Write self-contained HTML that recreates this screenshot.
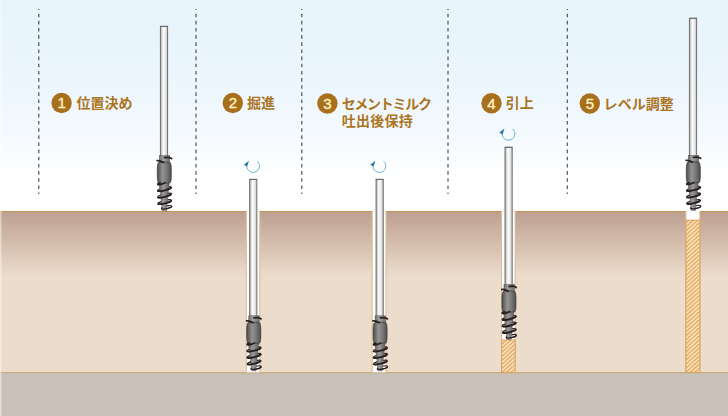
<!DOCTYPE html>
<html lang="ja"><head><meta charset="utf-8"><title>施工手順</title>
<style>
html,body{margin:0;padding:0;background:#fff;}
body{width:728px;height:416px;overflow:hidden;}
svg{display:block;}
.lbl{font-family:"Liberation Sans","Noto Sans CJK JP",sans-serif;font-weight:bold;font-size:14px;fill:#ab741f;}
.kana{letter-spacing:-1.25px;}
.k3{letter-spacing:0.25px;}
.kana2{letter-spacing:0.05px;}
.num{font-family:"Liberation Sans","Noto Sans CJK JP",sans-serif;font-weight:normal;font-size:15px;fill:#fff3c4;stroke:#fff3c4;stroke-width:0.35px;}
</style></head><body>
<svg width="728" height="416" viewBox="0 0 728 416">
<defs>
<linearGradient id="sky" x1="0" y1="0" x2="0" y2="1"><stop offset="0" stop-color="#e8f4fc"/><stop offset="0.33" stop-color="#eaf5fd"/><stop offset="0.6" stop-color="#f3f9fe"/><stop offset="0.84" stop-color="#ffffff"/></linearGradient>
<linearGradient id="soil" x1="0" y1="0" x2="0" y2="1"><stop offset="0" stop-color="#bd9f90"/><stop offset="1" stop-color="#ebdccb"/></linearGradient>
<linearGradient id="pg" x1="0" y1="0" x2="1" y2="0"><stop offset="0" stop-color="#a8a8a8"/><stop offset="0.4" stop-color="#ffffff"/><stop offset="0.75" stop-color="#e6e6e6"/><stop offset="1" stop-color="#b8b8b8"/></linearGradient>
<linearGradient id="ng" x1="0" y1="0" x2="1" y2="0"><stop offset="0" stop-color="#6a6a6a"/><stop offset="0.4" stop-color="#a5a5a5"/><stop offset="1" stop-color="#6a6a6a"/></linearGradient>
<linearGradient id="bg" x1="0" y1="0" x2="1" y2="0"><stop offset="0" stop-color="#4c4a4a"/><stop offset="0.38" stop-color="#939393"/><stop offset="0.6" stop-color="#808080"/><stop offset="1" stop-color="#504e4e"/></linearGradient>
<linearGradient id="tg" x1="0" y1="0" x2="1" y2="0"><stop offset="0" stop-color="#5a5858"/><stop offset="0.45" stop-color="#9a9a9a"/><stop offset="1" stop-color="#5a5858"/></linearGradient>
<pattern id="hatch" width="3" height="3" patternUnits="userSpaceOnUse" patternTransform="rotate(-42)"><rect width="3" height="3" fill="#fbe0bc"/><rect width="3" height="1.15" fill="#dda556"/></pattern>
</defs>
<rect x="0" y="0" width="728" height="212" fill="url(#sky)"/>
<rect x="0" y="211" width="728" height="65" fill="url(#soil)"/>
<rect x="0" y="275.5" width="728" height="97" fill="#ebdccb"/>
<rect x="0" y="372.6" width="728" height="44" fill="#c9c1b7"/>
<rect x="0" y="210.95" width="728" height="1.15" fill="#bf9858"/>
<rect x="0" y="372.2" width="728" height="1.0" fill="#c2a26e"/>
<rect x="0" y="0" width="1" height="416" fill="#fff" opacity="0.45"/><rect x="1" y="0" width="1" height="416" fill="#fff" opacity="0.25"/>
<path d="M38.8 8.9 V194.1" stroke="#4c4c4c" stroke-width="1.15" stroke-dasharray="3.6 3.555" stroke-dashoffset="2.4" fill="none"/>
<path d="M196 8.9 V194.1" stroke="#4c4c4c" stroke-width="1.15" stroke-dasharray="3.6 3.555" stroke-dashoffset="2.4" fill="none"/>
<path d="M301.8 8.9 V194.1" stroke="#4c4c4c" stroke-width="1.15" stroke-dasharray="3.6 3.555" stroke-dashoffset="2.4" fill="none"/>
<path d="M448 8.9 V194.1" stroke="#4c4c4c" stroke-width="1.15" stroke-dasharray="3.6 3.555" stroke-dashoffset="2.4" fill="none"/>
<path d="M567.3 8.9 V194.1" stroke="#4c4c4c" stroke-width="1.15" stroke-dasharray="3.6 3.555" stroke-dashoffset="2.4" fill="none"/>
<rect x="246.3" y="210.9" width="13.5" height="161.4" fill="#fff"/><path d="M246.3 210.9 V372.3 M259.8 210.9 V372.3" stroke="#ddbc8e" stroke-width="1" fill="none"/>
<rect x="372.2" y="210.9" width="13.800000000000011" height="161.4" fill="#fff"/><path d="M372.2 210.9 V372.3 M386.0 210.9 V372.3" stroke="#ddbc8e" stroke-width="1" fill="none"/>
<rect x="501.6" y="210.9" width="13.5" height="161.4" fill="#fff"/><path d="M501.6 210.9 V372.3 M515.1 210.9 V372.3" stroke="#ddbc8e" stroke-width="1" fill="none"/>
<rect x="685.9" y="210.9" width="14.0" height="161.4" fill="#fff"/><path d="M685.9 210.9 V372.3 M699.9 210.9 V372.3" stroke="#ddbc8e" stroke-width="1" fill="none"/>
<rect x="501.6" y="340" width="13.5" height="32.39999999999998" fill="url(#hatch)" stroke="#d9a055" stroke-width="1"/>
<rect x="685.9" y="220.2" width="14.0" height="152.2" fill="url(#hatch)" stroke="#d9a055" stroke-width="1"/>
<rect x="160.40" y="26.35" width="7.2" height="130.65" fill="url(#pg)" stroke="#6c6c6c" stroke-width="0.95"/><rect x="160.10" y="25.90" width="7.8" height="1.0" fill="#5e5e5e" opacity="0.7"/>
<rect x="249.65" y="179.35" width="7.2" height="138.65" fill="url(#pg)" stroke="#6c6c6c" stroke-width="0.95"/><rect x="249.35" y="178.90" width="7.8" height="1.0" fill="#5e5e5e" opacity="0.7"/>
<rect x="376.05" y="179.35" width="7.2" height="138.65" fill="url(#pg)" stroke="#6c6c6c" stroke-width="0.95"/><rect x="375.75" y="178.90" width="7.8" height="1.0" fill="#5e5e5e" opacity="0.7"/>
<rect x="505.00" y="147.25" width="7.2" height="139.75" fill="url(#pg)" stroke="#6c6c6c" stroke-width="0.95"/><rect x="504.70" y="146.80" width="7.8" height="1.0" fill="#5e5e5e" opacity="0.7"/>
<rect x="689.40" y="18.25" width="7.2" height="138.75" fill="url(#pg)" stroke="#6c6c6c" stroke-width="0.95"/><rect x="689.10" y="17.80" width="7.8" height="1.0" fill="#5e5e5e" opacity="0.7"/>
<ellipse cx="164.50" cy="189.00" rx="7.0" ry="1.35" transform="rotate(-14 164.50 189.00)" fill="none" stroke="#2a1f1f" stroke-width="1.5"/>
<ellipse cx="164.50" cy="195.50" rx="7.0" ry="1.35" transform="rotate(-14 164.50 195.50)" fill="none" stroke="#2a1f1f" stroke-width="1.5"/>
<ellipse cx="164.60" cy="202.00" rx="6.8" ry="1.35" transform="rotate(-14 164.60 202.00)" fill="none" stroke="#2a1f1f" stroke-width="1.5"/>
<ellipse cx="166.60" cy="207.30" rx="5.2" ry="1.4" transform="rotate(-12 166.60 207.30)" fill="none" stroke="#2a1f1f" stroke-width="1.2"/>
<rect x="159.30" y="155.50" width="10.4" height="8" fill="url(#ng)" stroke="#555" stroke-width="0.5"/>
<path d="M158.60 182.00 L169.60 182.00 L167.70 197.00 L166.50 210.70 L162.20 210.70 L160.80 197.00 Z" fill="url(#tg)" stroke="#555" stroke-width="0.4"/>
<path d="M158.40 162.60 Q164.30 161.00 170.20 162.60 Q171.50 164.00 171.30 172.50 Q171.50 180.60 170.40 182.60 Q164.30 184.40 158.20 182.60 Q157.10 180.60 157.30 172.50 Q157.10 164.00 158.40 162.60 Z" fill="url(#bg)" stroke="#3a3636" stroke-width="0.7"/>
<path d="M164.50 157.60 Q170.00 156.70 171.60 158.60" fill="none" stroke="#2a1f1f" stroke-width="1.8" stroke-linecap="round"/>
<path d="M157.20 160.60 Q160.00 160.20 163.50 162.40" fill="none" stroke="#2a1f1f" stroke-width="1.8" stroke-linecap="round"/>
<path d="M165.00 182.60 Q161.00 185.20 157.80 184.60 Q157.00 183.40 160.00 183.00" fill="none" stroke="#2a1f1f" stroke-width="1.6" stroke-linecap="round"/>
<path d="M-7.0 0 A7.0 1.35 0 0 0 7.0 0" transform="translate(164.50 189.00) rotate(-14)" fill="none" stroke="#2a1f1f" stroke-width="1.9"/>
<path d="M-7.0 0 A7.0 1.35 0 0 0 7.0 0" transform="translate(164.50 195.50) rotate(-14)" fill="none" stroke="#2a1f1f" stroke-width="1.9"/>
<path d="M-6.8 0 A6.8 1.35 0 0 0 6.8 0" transform="translate(164.60 202.00) rotate(-14)" fill="none" stroke="#2a1f1f" stroke-width="1.9"/>
<path d="M-5.2 0 A5.2 1.4 0 0 0 5.2 0" transform="translate(166.60 207.30) rotate(-12)" fill="none" stroke="#2a1f1f" stroke-width="1.4"/>
<ellipse cx="253.95" cy="349.30" rx="7.0" ry="1.35" transform="rotate(-14 253.95 349.30)" fill="none" stroke="#2a1f1f" stroke-width="1.5"/>
<ellipse cx="253.95" cy="355.80" rx="7.0" ry="1.35" transform="rotate(-14 253.95 355.80)" fill="none" stroke="#2a1f1f" stroke-width="1.5"/>
<ellipse cx="254.05" cy="362.30" rx="6.8" ry="1.35" transform="rotate(-14 254.05 362.30)" fill="none" stroke="#2a1f1f" stroke-width="1.5"/>
<ellipse cx="256.05" cy="367.60" rx="5.2" ry="1.4" transform="rotate(-12 256.05 367.60)" fill="none" stroke="#2a1f1f" stroke-width="1.2"/>
<rect x="248.75" y="315.80" width="10.4" height="8" fill="url(#ng)" stroke="#555" stroke-width="0.5"/>
<path d="M248.05 342.30 L259.05 342.30 L257.15 357.30 L255.95 371.00 L251.65 371.00 L250.25 357.30 Z" fill="url(#tg)" stroke="#555" stroke-width="0.4"/>
<path d="M247.85 322.90 Q253.75 321.30 259.65 322.90 Q260.95 324.30 260.75 332.80 Q260.95 340.90 259.85 342.90 Q253.75 344.70 247.65 342.90 Q246.55 340.90 246.75 332.80 Q246.55 324.30 247.85 322.90 Z" fill="url(#bg)" stroke="#3a3636" stroke-width="0.7"/>
<path d="M253.95 317.90 Q259.45 317.00 261.05 318.90" fill="none" stroke="#2a1f1f" stroke-width="1.8" stroke-linecap="round"/>
<path d="M246.65 320.90 Q249.45 320.50 252.95 322.70" fill="none" stroke="#2a1f1f" stroke-width="1.8" stroke-linecap="round"/>
<path d="M254.45 342.90 Q250.45 345.50 247.25 344.90 Q246.45 343.70 249.45 343.30" fill="none" stroke="#2a1f1f" stroke-width="1.6" stroke-linecap="round"/>
<path d="M-7.0 0 A7.0 1.35 0 0 0 7.0 0" transform="translate(253.95 349.30) rotate(-14)" fill="none" stroke="#2a1f1f" stroke-width="1.9"/>
<path d="M-7.0 0 A7.0 1.35 0 0 0 7.0 0" transform="translate(253.95 355.80) rotate(-14)" fill="none" stroke="#2a1f1f" stroke-width="1.9"/>
<path d="M-6.8 0 A6.8 1.35 0 0 0 6.8 0" transform="translate(254.05 362.30) rotate(-14)" fill="none" stroke="#2a1f1f" stroke-width="1.9"/>
<path d="M-5.2 0 A5.2 1.4 0 0 0 5.2 0" transform="translate(256.05 367.60) rotate(-12)" fill="none" stroke="#2a1f1f" stroke-width="1.4"/>
<ellipse cx="380.30" cy="349.30" rx="7.0" ry="1.35" transform="rotate(-14 380.30 349.30)" fill="none" stroke="#2a1f1f" stroke-width="1.5"/>
<ellipse cx="380.30" cy="355.80" rx="7.0" ry="1.35" transform="rotate(-14 380.30 355.80)" fill="none" stroke="#2a1f1f" stroke-width="1.5"/>
<ellipse cx="380.40" cy="362.30" rx="6.8" ry="1.35" transform="rotate(-14 380.40 362.30)" fill="none" stroke="#2a1f1f" stroke-width="1.5"/>
<ellipse cx="382.40" cy="367.60" rx="5.2" ry="1.4" transform="rotate(-12 382.40 367.60)" fill="none" stroke="#2a1f1f" stroke-width="1.2"/>
<rect x="375.10" y="315.80" width="10.4" height="8" fill="url(#ng)" stroke="#555" stroke-width="0.5"/>
<path d="M374.40 342.30 L385.40 342.30 L383.50 357.30 L382.30 371.00 L378.00 371.00 L376.60 357.30 Z" fill="url(#tg)" stroke="#555" stroke-width="0.4"/>
<path d="M374.20 322.90 Q380.10 321.30 386.00 322.90 Q387.30 324.30 387.10 332.80 Q387.30 340.90 386.20 342.90 Q380.10 344.70 374.00 342.90 Q372.90 340.90 373.10 332.80 Q372.90 324.30 374.20 322.90 Z" fill="url(#bg)" stroke="#3a3636" stroke-width="0.7"/>
<path d="M380.30 317.90 Q385.80 317.00 387.40 318.90" fill="none" stroke="#2a1f1f" stroke-width="1.8" stroke-linecap="round"/>
<path d="M373.00 320.90 Q375.80 320.50 379.30 322.70" fill="none" stroke="#2a1f1f" stroke-width="1.8" stroke-linecap="round"/>
<path d="M380.80 342.90 Q376.80 345.50 373.60 344.90 Q372.80 343.70 375.80 343.30" fill="none" stroke="#2a1f1f" stroke-width="1.6" stroke-linecap="round"/>
<path d="M-7.0 0 A7.0 1.35 0 0 0 7.0 0" transform="translate(380.30 349.30) rotate(-14)" fill="none" stroke="#2a1f1f" stroke-width="1.9"/>
<path d="M-7.0 0 A7.0 1.35 0 0 0 7.0 0" transform="translate(380.30 355.80) rotate(-14)" fill="none" stroke="#2a1f1f" stroke-width="1.9"/>
<path d="M-6.8 0 A6.8 1.35 0 0 0 6.8 0" transform="translate(380.40 362.30) rotate(-14)" fill="none" stroke="#2a1f1f" stroke-width="1.9"/>
<path d="M-5.2 0 A5.2 1.4 0 0 0 5.2 0" transform="translate(382.40 367.60) rotate(-12)" fill="none" stroke="#2a1f1f" stroke-width="1.4"/>
<ellipse cx="509.15" cy="317.90" rx="7.0" ry="1.35" transform="rotate(-14 509.15 317.90)" fill="none" stroke="#2a1f1f" stroke-width="1.5"/>
<ellipse cx="509.15" cy="324.40" rx="7.0" ry="1.35" transform="rotate(-14 509.15 324.40)" fill="none" stroke="#2a1f1f" stroke-width="1.5"/>
<ellipse cx="509.25" cy="330.90" rx="6.8" ry="1.35" transform="rotate(-14 509.25 330.90)" fill="none" stroke="#2a1f1f" stroke-width="1.5"/>
<ellipse cx="511.25" cy="336.20" rx="5.2" ry="1.4" transform="rotate(-12 511.25 336.20)" fill="none" stroke="#2a1f1f" stroke-width="1.2"/>
<rect x="503.95" y="284.40" width="10.4" height="8" fill="url(#ng)" stroke="#555" stroke-width="0.5"/>
<path d="M503.25 310.90 L514.25 310.90 L512.35 325.90 L511.15 339.60 L506.85 339.60 L505.45 325.90 Z" fill="url(#tg)" stroke="#555" stroke-width="0.4"/>
<path d="M503.05 291.50 Q508.95 289.90 514.85 291.50 Q516.15 292.90 515.95 301.40 Q516.15 309.50 515.05 311.50 Q508.95 313.30 502.85 311.50 Q501.75 309.50 501.95 301.40 Q501.75 292.90 503.05 291.50 Z" fill="url(#bg)" stroke="#3a3636" stroke-width="0.7"/>
<path d="M509.15 286.50 Q514.65 285.60 516.25 287.50" fill="none" stroke="#2a1f1f" stroke-width="1.8" stroke-linecap="round"/>
<path d="M501.85 289.50 Q504.65 289.10 508.15 291.30" fill="none" stroke="#2a1f1f" stroke-width="1.8" stroke-linecap="round"/>
<path d="M509.65 311.50 Q505.65 314.10 502.45 313.50 Q501.65 312.30 504.65 311.90" fill="none" stroke="#2a1f1f" stroke-width="1.6" stroke-linecap="round"/>
<path d="M-7.0 0 A7.0 1.35 0 0 0 7.0 0" transform="translate(509.15 317.90) rotate(-14)" fill="none" stroke="#2a1f1f" stroke-width="1.9"/>
<path d="M-7.0 0 A7.0 1.35 0 0 0 7.0 0" transform="translate(509.15 324.40) rotate(-14)" fill="none" stroke="#2a1f1f" stroke-width="1.9"/>
<path d="M-6.8 0 A6.8 1.35 0 0 0 6.8 0" transform="translate(509.25 330.90) rotate(-14)" fill="none" stroke="#2a1f1f" stroke-width="1.9"/>
<path d="M-5.2 0 A5.2 1.4 0 0 0 5.2 0" transform="translate(511.25 336.20) rotate(-12)" fill="none" stroke="#2a1f1f" stroke-width="1.4"/>
<ellipse cx="693.50" cy="188.80" rx="7.0" ry="1.35" transform="rotate(-14 693.50 188.80)" fill="none" stroke="#2a1f1f" stroke-width="1.5"/>
<ellipse cx="693.50" cy="195.30" rx="7.0" ry="1.35" transform="rotate(-14 693.50 195.30)" fill="none" stroke="#2a1f1f" stroke-width="1.5"/>
<ellipse cx="693.60" cy="201.80" rx="6.8" ry="1.35" transform="rotate(-14 693.60 201.80)" fill="none" stroke="#2a1f1f" stroke-width="1.5"/>
<ellipse cx="695.60" cy="207.10" rx="5.2" ry="1.4" transform="rotate(-12 695.60 207.10)" fill="none" stroke="#2a1f1f" stroke-width="1.2"/>
<rect x="688.30" y="155.30" width="10.4" height="8" fill="url(#ng)" stroke="#555" stroke-width="0.5"/>
<path d="M687.60 181.80 L698.60 181.80 L696.70 196.80 L695.50 210.50 L691.20 210.50 L689.80 196.80 Z" fill="url(#tg)" stroke="#555" stroke-width="0.4"/>
<path d="M687.40 162.40 Q693.30 160.80 699.20 162.40 Q700.50 163.80 700.30 172.30 Q700.50 180.40 699.40 182.40 Q693.30 184.20 687.20 182.40 Q686.10 180.40 686.30 172.30 Q686.10 163.80 687.40 162.40 Z" fill="url(#bg)" stroke="#3a3636" stroke-width="0.7"/>
<path d="M693.50 157.40 Q699.00 156.50 700.60 158.40" fill="none" stroke="#2a1f1f" stroke-width="1.8" stroke-linecap="round"/>
<path d="M686.20 160.40 Q689.00 160.00 692.50 162.20" fill="none" stroke="#2a1f1f" stroke-width="1.8" stroke-linecap="round"/>
<path d="M694.00 182.40 Q690.00 185.00 686.80 184.40 Q686.00 183.20 689.00 182.80" fill="none" stroke="#2a1f1f" stroke-width="1.6" stroke-linecap="round"/>
<path d="M-7.0 0 A7.0 1.35 0 0 0 7.0 0" transform="translate(693.50 188.80) rotate(-14)" fill="none" stroke="#2a1f1f" stroke-width="1.9"/>
<path d="M-7.0 0 A7.0 1.35 0 0 0 7.0 0" transform="translate(693.50 195.30) rotate(-14)" fill="none" stroke="#2a1f1f" stroke-width="1.9"/>
<path d="M-6.8 0 A6.8 1.35 0 0 0 6.8 0" transform="translate(693.60 201.80) rotate(-14)" fill="none" stroke="#2a1f1f" stroke-width="1.9"/>
<path d="M-5.2 0 A5.2 1.4 0 0 0 5.2 0" transform="translate(695.60 207.10) rotate(-12)" fill="none" stroke="#2a1f1f" stroke-width="1.4"/>
<path d="M257.16 161.10 A6.4 6.4 0 1 1 246.67 165.44" fill="none" stroke="#6fb0c6" stroke-width="1"/><path d="M248.95 160.80 L243.95 164.70 L247.15 166.60 Z" fill="#217aa0"/>
<path d="M383.51 161.10 A6.4 6.4 0 1 1 373.02 165.44" fill="none" stroke="#6fb0c6" stroke-width="1"/><path d="M375.30 160.80 L370.30 164.70 L373.50 166.60 Z" fill="#217aa0"/>
<path d="M512.61 128.90 A6.4 6.4 0 1 1 502.12 133.24" fill="none" stroke="#6fb0c6" stroke-width="1"/><path d="M504.40 128.60 L499.40 132.50 L502.60 134.40 Z" fill="#217aa0"/>
<circle cx="61.6" cy="103" r="10.2" fill="#a86f1c"/><text x="61.6" y="108.3" text-anchor="middle" class="num">1</text><text x="76.5" y="108.0" class="lbl ">位置決め</text>
<circle cx="232.8" cy="103" r="10.2" fill="#a86f1c"/><text x="232.8" y="108.3" text-anchor="middle" class="num">2</text><text x="247" y="108.0" class="lbl ">掘進</text>
<circle cx="327.4" cy="103.5" r="10.2" fill="#a86f1c"/><text x="327.4" y="108.8" text-anchor="middle" class="num">3</text><text x="341.8" y="108.5" class="lbl kana">セメントミルク</text><text x="341.8" y="126.0" class="lbl k3">吐出後保持</text>
<circle cx="491.5" cy="103.3" r="10.2" fill="#a86f1c"/><text x="491.5" y="108.6" text-anchor="middle" class="num">4</text><text x="505.8" y="108.3" class="lbl ">引上</text>
<circle cx="589.8" cy="103.5" r="10.2" fill="#a86f1c"/><text x="589.8" y="108.8" text-anchor="middle" class="num">5</text><text x="603.6" y="108.5" class="lbl kana2">レベル調整</text>
</svg>
</body></html>
